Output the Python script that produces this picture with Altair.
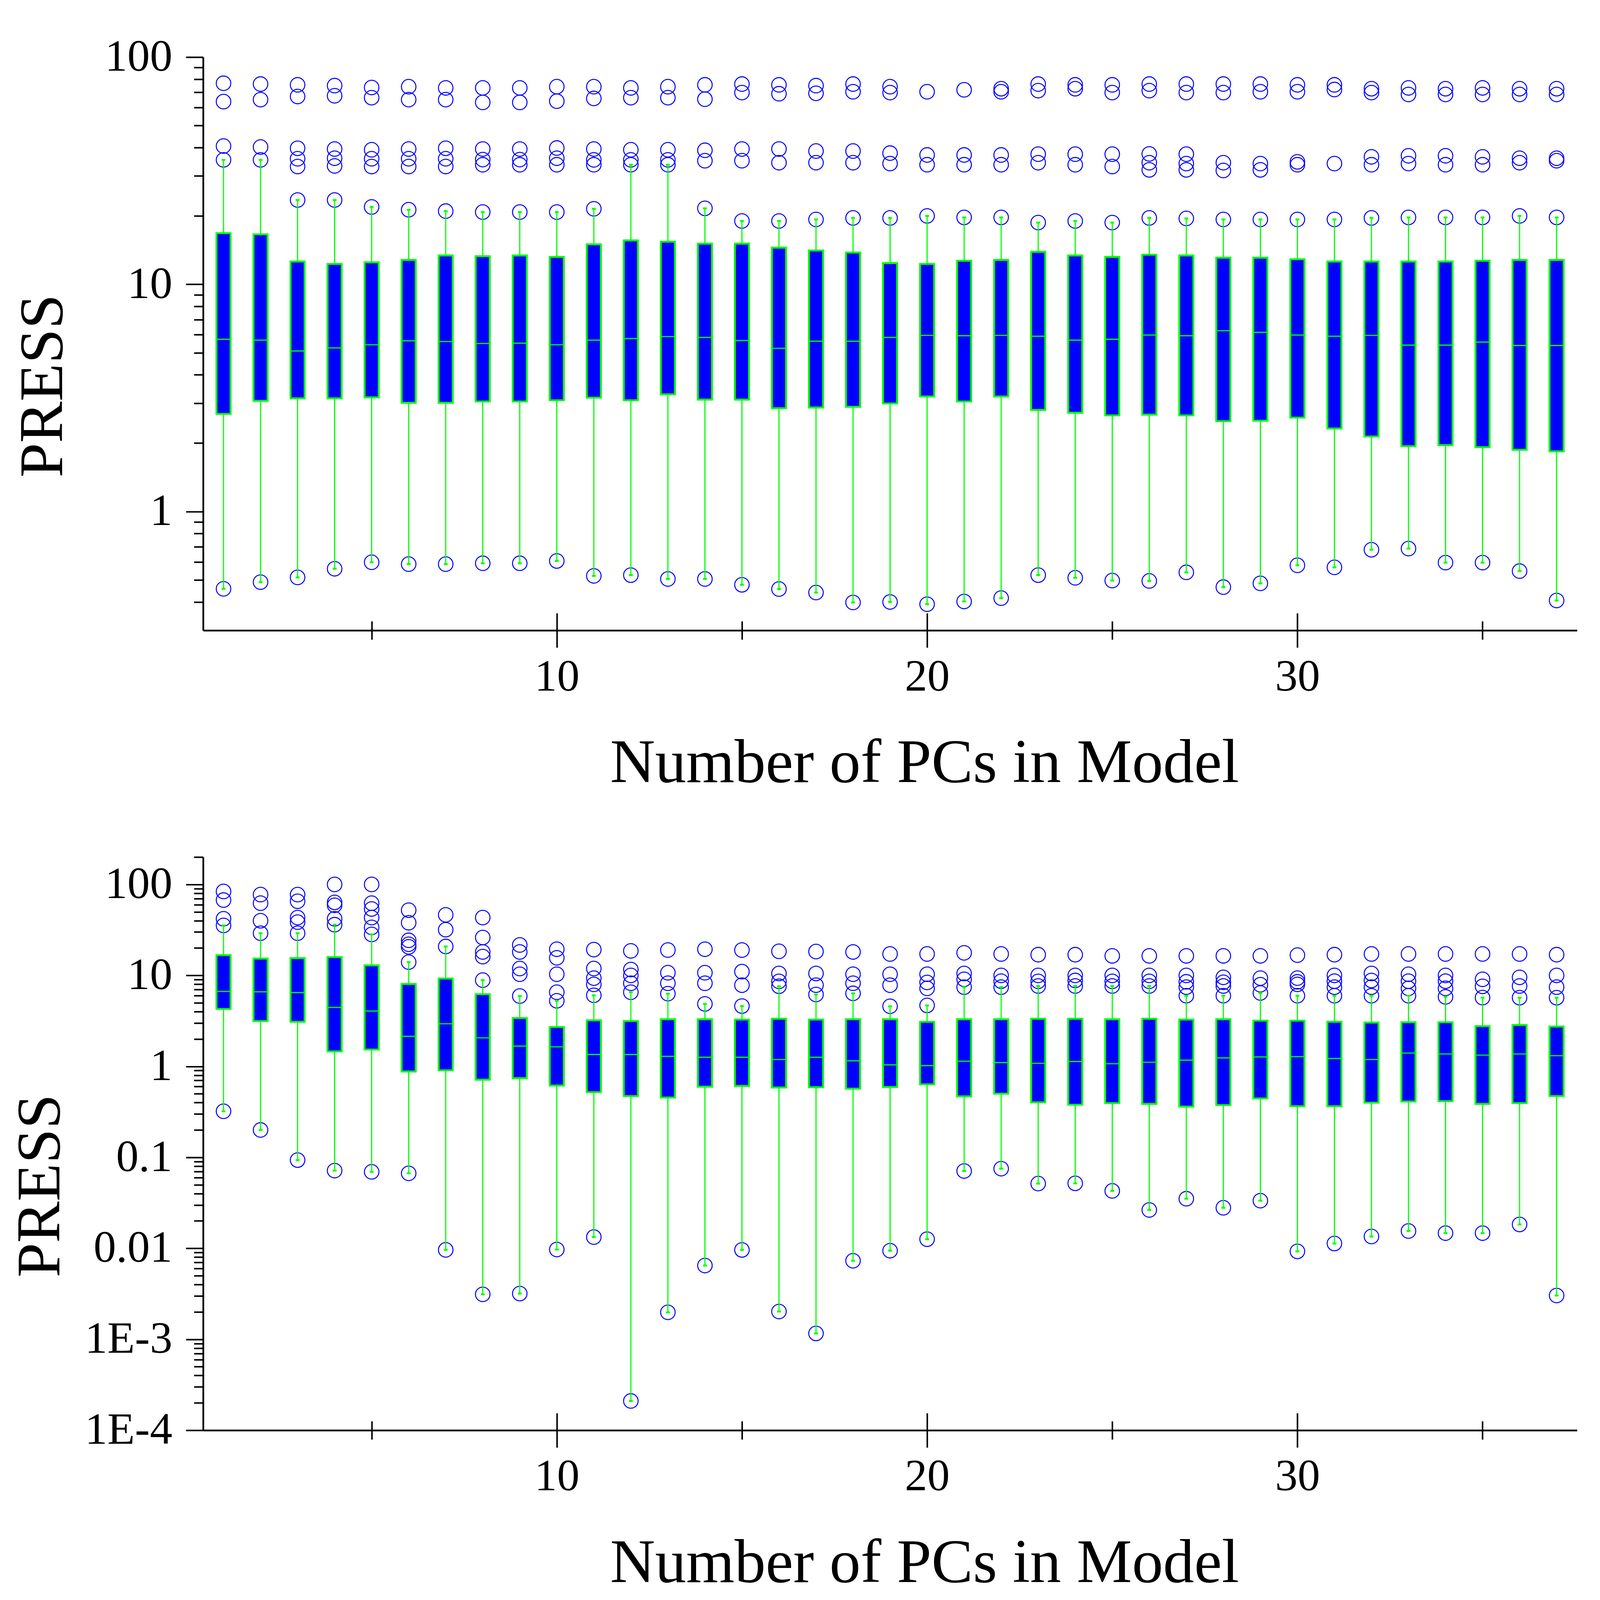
import altair as alt
import pandas as pd

# ---------------- data ----------------
PCS = list(range(1, 38))

# top panel
TOP_LO = [0.457, 0.489, 0.513, 0.560, 0.598, 0.587, 0.587, 0.592, 0.592, 0.606,
          0.521, 0.525, 0.505, 0.505, 0.476, 0.456, 0.440, 0.398, 0.400, 0.391,
          0.402, 0.416, 0.525, 0.511, 0.497, 0.495, 0.540, 0.465, 0.483, 0.580,
          0.568, 0.679, 0.687, 0.596, 0.596, 0.547, 0.406]
TOP_Q1 = [2.69, 3.07, 3.15, 3.15, 3.18, 3.01, 3.01, 3.05, 3.05, 3.09,
          3.17, 3.09, 3.28, 3.11, 3.11, 2.85, 2.87, 2.89, 2.99, 3.21,
          3.05, 3.21, 2.80, 2.72, 2.65, 2.67, 2.65, 2.50, 2.51, 2.59,
          2.32, 2.14, 1.94, 1.96, 1.92, 1.87, 1.84]
TOP_MED = [5.73, 5.68, 5.09, 5.25, 5.42, 5.64, 5.60, 5.49, 5.51, 5.42,
           5.68, 5.77, 5.89, 5.84, 5.66, 5.23, 5.62, 5.62, 5.84, 5.96,
           5.94, 5.96, 5.91, 5.68, 5.73, 5.98, 5.94, 6.25, 6.15, 5.98,
           5.91, 5.96, 5.40, 5.40, 5.57, 5.38, 5.38]
TOP_Q3 = [16.8, 16.6, 12.6, 12.3, 12.5, 12.8, 13.4, 13.3, 13.4, 13.2,
          15.0, 15.6, 15.4, 15.1, 15.1, 14.5, 14.1, 13.8, 12.4, 12.3,
          12.7, 12.8, 13.9, 13.4, 13.2, 13.5, 13.4, 13.1, 13.1, 12.9,
          12.6, 12.6, 12.6, 12.6, 12.7, 12.8, 12.8]
TOP_HI = [35.3, 35.3, 23.5, 23.5, 21.9, 21.3, 21.0, 20.8, 20.8, 20.8,
          21.5, 33.6, 33.6, 21.6, 19.0, 19.0, 19.3, 19.6, 19.6, 20.0,
          19.7, 19.7, 18.7, 19.0, 18.7, 19.6, 19.5, 19.3, 19.3, 19.3,
          19.3, 19.6, 19.7, 19.7, 19.7, 20.0, 19.7]
TOP_OUT = [
    [76.7, 63.7, 40.6], [76.1, 65.0, 40.2], [75.5, 67.1, 39.7, 35.7, 33.0],
    [74.9, 67.6, 39.4, 35.9, 33.2], [73.5, 66.3, 39.1, 35.7, 33.0],
    [74.1, 65.0, 39.4, 35.7, 33.0], [73.2, 65.0, 39.7, 35.7, 33.0],
    [73.2, 63.2, 39.4, 35.4, 33.6], [73.2, 63.2, 39.4, 35.4, 33.6],
    [74.1, 64.0, 39.8, 35.9, 33.6], [74.1, 65.8, 39.4, 35.3, 33.6],
    [73.2, 66.3, 39.1, 35.3], [74.1, 66.3, 39.1, 35.3], [75.5, 65.3, 38.9, 35.0],
    [76.1, 69.8, 39.4, 35.0], [75.5, 69.0, 39.4, 34.3], [74.9, 69.3, 38.6, 34.3],
    [76.1, 70.4, 38.6, 34.3], [74.1, 69.8, 37.8, 34.0], [70.4, 37.1, 33.6],
    [71.8, 37.1, 33.6], [72.6, 70.4, 37.1, 33.6], [76.1, 71.2, 37.4, 34.3],
    [75.5, 72.6, 37.4, 33.6], [75.5, 69.8, 37.4, 33.0],
    [76.1, 71.2, 37.5, 34.3, 31.9], [76.1, 69.8, 37.4, 34.0, 31.9],
    [76.1, 69.8, 34.3, 31.7], [76.1, 70.4, 34.0, 31.9], [75.5, 70.4, 34.6, 33.6],
    [75.5, 72.0, 34.0], [72.6, 69.8, 36.4, 33.6], [73.2, 68.5, 36.8, 34.0],
    [72.6, 68.5, 36.8, 33.6], [73.2, 68.5, 36.4, 33.6], [72.6, 68.5, 35.9, 34.3],
    [72.6, 68.5, 35.9, 35.0],
]

# bottom panel
BOT_LO = [0.321, 0.200, 0.0933, 0.0715, 0.0693, 0.0667, 0.00962, 0.00312, 0.00318, 0.0097,
          0.0133, 0.00021, 0.00198, 0.00647, 0.0096, 0.00202, 0.00116, 0.0073, 0.00942, 0.0126,
          0.0708, 0.0751, 0.0515, 0.0518, 0.0428, 0.0264, 0.0351, 0.0279, 0.0334, 0.00925,
          0.0113, 0.0135, 0.0155, 0.0147, 0.0147, 0.0183, 0.00303]
BOT_Q1 = [4.28, 3.15, 3.09, 1.46, 1.53, 0.879, 0.906, 0.714, 0.743, 0.616,
          0.521, 0.472, 0.454, 0.598, 0.610, 0.586, 0.590, 0.569, 0.593, 0.635,
          0.468, 0.501, 0.403, 0.379, 0.395, 0.387, 0.361, 0.376, 0.445, 0.365,
          0.365, 0.399, 0.411, 0.415, 0.387, 0.395, 0.472]
BOT_MED = [6.67, 6.61, 6.48, 4.45, 4.06, 2.14, 2.94, 2.06, 1.67, 1.64,
           1.35, 1.35, 1.29, 1.26, 1.26, 1.19, 1.26, 1.15, 1.04, 1.02,
           1.14, 1.10, 1.08, 1.13, 1.07, 1.11, 1.17, 1.24, 1.27, 1.28,
           1.22, 1.19, 1.40, 1.37, 1.33, 1.37, 1.31]
BOT_Q3 = [16.7, 15.3, 15.5, 15.9, 12.9, 8.05, 9.25, 6.22, 3.40, 2.71,
          3.21, 3.15, 3.30, 3.30, 3.27, 3.34, 3.27, 3.30, 3.30, 3.09,
          3.30, 3.30, 3.34, 3.34, 3.30, 3.34, 3.27, 3.30, 3.18, 3.18,
          3.09, 3.03, 3.06, 3.06, 2.77, 2.85, 2.74]
BOT_HI = [35.4, 29.1, 29.1, 36.1, 28.2, 14.0, 20.8, 8.87, 5.93, 5.26,
          6.04, 6.53, 6.3, 4.86, 4.6, 7.6, 6.17, 6.35, 4.58, 4.68,
          7.43, 7.43, 7.65, 7.65, 7.65, 7.65, 5.98, 5.98, 6.41, 5.98,
          5.98, 5.98, 5.98, 5.81, 5.7, 5.69, 5.69]
BOT_OUT = [
    [83.7, 67.3, 41.9], [77.3, 62.2, 39.9], [77.3, 65.3, 43.2, 38.5],
    [100.0, 63.5, 59.0, 41.9], [100.0, 62.2, 53.7, 43.2, 33.7],
    [52.1, 37.9, 24.3, 22.0, 20.6], [46.3, 31.8], [43.2, 26.1, 18.1, 16.1],
    [21.6, 18.1, 11.9, 10.3], [19.4, 15.6, 10.3, 6.53], [19.2, 11.9, 9.33, 7.97],
    [18.6, 11.6, 10.0, 8.2], [19.0, 10.7, 8.2], [19.4, 10.7, 8.2], [19.0, 11.0, 7.81],
    [18.4, 10.5, 8.6], [18.3, 10.5, 7.81], [18.1, 10.3, 8.2], [17.2, 10.3, 7.81],
    [17.2, 10.3, 8.37, 7.21], [17.7, 10.5, 9.06], [17.2, 10.0, 8.64],
    [16.9, 10.0, 8.6], [16.9, 10.0, 8.8], [16.4, 10.0, 8.6], [16.4, 10.0, 8.6],
    [16.4, 10.0, 8.5, 7.43], [16.4, 9.52, 8.4, 7.65], [16.4, 9.33, 7.9],
    [16.7, 9.33, 8.5, 7.97], [16.9, 10.0, 8.64, 7.43], [17.2, 10.5, 8.79, 7.43],
    [17.2, 10.3, 8.64, 7.21], [17.2, 10.0, 8.64, 7.21], [17.2, 9.06, 7.58],
    [17.2, 9.52, 7.65], [16.9, 10.0, 7.43],
]

# axes
X_DOMAIN = [0.5, 37.5]
X_MAJOR = [10, 20, 30]
X_MAJOR_LABELS = ["10", "20", "30"]
X_MINOR = [5, 15, 25, 35]

TOP_Y_DOMAIN = [0.3, 100]
TOP_Y_MAJOR = [1, 10, 100]
TOP_Y_LABELS = ["1", "10", "100"]
TOP_Y_MINOR = [0.4, 0.5, 0.6, 0.7, 0.8, 0.9, 2, 3, 4, 5, 6, 7, 8, 9,
               20, 30, 40, 50, 60, 70, 80, 90]

BOT_Y_DOMAIN = [0.0001, 200]
BOT_Y_MAJOR = [0.0001, 0.001, 0.01, 0.1, 1, 10, 100]
BOT_Y_LABELS = ["1E-4", "1E-3", "0.01", "0.1", "1", "10", "100"]
BOT_Y_MINOR = [m * d for d in [0.0001, 0.001, 0.01, 0.1, 1, 10] for m in range(2, 10)] + [200]

X_TITLE = "Number of PCs in Model"
Y_TITLE = "PRESS"

# ---------------- style ----------------
FONT = "Liberation Serif"
BLUE = "#0000FF"
GREEN = "#00FF00"
W = 3600
H = 1502
LABEL_SIZE = 118
TITLE_SIZE = 163
MAJOR_TICK = 45
MINOR_TICK = 24


def label_expr(vals, labels):
    parts = [f"datum.value == {v!r} ? '{l}'" for v, l in zip(vals, labels)]
    return " : ".join(parts) + " : ''"


def frames(lo, q1, med, q3, hi, out):
    box = pd.DataFrame({"pc": PCS, "lo": lo, "q1": q1, "med": med, "q3": q3, "hi": hi})
    rows = []
    for pc, l, h, extra in zip(PCS, lo, hi, out):
        for v in [l, h] + list(extra):
            rows.append({"pc": pc, "v": v})
    return box, pd.DataFrame(rows)


def panel(lo, q1, med, q3, hi, out, ydom, ymaj, ylab, ymin, ytitle_pad):
    box, pts = frames(lo, q1, med, q3, hi, out)
    xs = alt.Scale(domain=X_DOMAIN, nice=False, zero=False)
    ys = alt.Scale(type="log", domain=ydom, nice=False)

    common = dict(tickColor="black", tickWidth=4, grid=False)

    x_major = alt.Axis(
        values=X_MAJOR, labelExpr=label_expr(X_MAJOR, X_MAJOR_LABELS),
        tickSize=MAJOR_TICK, domain=True, domainColor="black", domainWidth=4.5,
        labelFont=FONT, labelFontSize=LABEL_SIZE, labelColor="black",
        labelPadding=19, labelFlush=False, labelOverlap=False, labelLimit=0,
        minExtent=0, maxExtent=1000,
        title=X_TITLE, titleFont=FONT, titleFontSize=TITLE_SIZE,
        titleFontWeight="normal", titleColor="black", titlePadding=87,
        titleX=W / 2 + 90, orient="bottom", **common)
    y_major = alt.Axis(
        values=ymaj, labelExpr=label_expr(ymaj, ylab),
        tickSize=MAJOR_TICK, domain=True, domainColor="black", domainWidth=4.5,
        labelFont=FONT, labelFontSize=LABEL_SIZE, labelColor="black",
        labelPadding=36, labelFlush=False, labelOverlap=False, labelLimit=0,
        minExtent=0, maxExtent=1000,
        title=Y_TITLE, titleFont=FONT, titleFontSize=TITLE_SIZE,
        titleFontWeight="normal", titleColor="black", titlePadding=ytitle_pad,
        titleY=H / 2 + 110, orient="left", **common)
    x_minor = alt.Axis(values=X_MINOR, tickSize=MINOR_TICK, labels=False,
                       domain=False, title=None, orient="bottom", **common)
    y_minor = alt.Axis(values=ymin, tickSize=MINOR_TICK, labels=False,
                       domain=False, title=None, orient="left", **common)
    x_up_major = alt.Axis(values=X_MAJOR, tickSize=MAJOR_TICK, labels=False,
                          domain=False, title=None, orient="top", offset=-H, **common)
    x_up_minor = alt.Axis(values=X_MINOR, tickSize=MINOR_TICK, labels=False,
                          domain=False, title=None, orient="top", offset=-H, **common)

    base = alt.Chart(box)
    points = alt.Chart(pts).mark_point(shape="circle", filled=False, size=1450,
                                       color=BLUE, strokeWidth=2.6, opacity=1).encode(
        x=alt.X("pc:Q", scale=xs, axis=x_minor),
        y=alt.Y("v:Q", scale=ys, axis=y_minor))
    whisk_lo = base.mark_rule(color=GREEN, strokeWidth=3).encode(
        x=alt.X("pc:Q", scale=xs, axis=None),
        y=alt.Y("lo:Q", scale=ys, axis=None), y2="q1:Q")
    whisk_hi = base.mark_rule(color=GREEN, strokeWidth=3).encode(
        x=alt.X("pc:Q", scale=xs, axis=None),
        y=alt.Y("q3:Q", scale=ys, axis=None), y2="hi:Q")
    bars = base.mark_bar(size=37, color=BLUE, stroke=GREEN, strokeWidth=5).encode(
        x=alt.X("pc:Q", scale=xs, axis=x_major),
        y=alt.Y("q1:Q", scale=ys, axis=y_major), y2="q3:Q")
    med_l = base.mark_tick(orient="horizontal", size=37, thickness=3, color=GREEN,
                           opacity=1).encode(
        x=alt.X("pc:Q", scale=xs, axis=None),
        y=alt.Y("med:Q", scale=ys, axis=None))
    cap_hi = base.mark_tick(orient="horizontal", size=10, thickness=5, color=GREEN,
                            opacity=1).encode(
        x=alt.X("pc:Q", scale=xs, axis=x_up_major),
        y=alt.Y("hi:Q", scale=ys, axis=None))
    cap_lo = base.mark_tick(orient="horizontal", size=10, thickness=5, color=GREEN,
                            opacity=1).encode(
        x=alt.X("pc:Q", scale=xs, axis=x_up_minor),
        y=alt.Y("lo:Q", scale=ys, axis=None))

    return alt.layer(points, whisk_lo, whisk_hi, bars, med_l, cap_hi, cap_lo).resolve_axis(
        x="independent", y="independent").properties(width=W, height=H)


top = panel(TOP_LO, TOP_Q1, TOP_MED, TOP_Q3, TOP_HI, TOP_OUT,
            TOP_Y_DOMAIN, TOP_Y_MAJOR, TOP_Y_LABELS, TOP_Y_MINOR, 78)
bot = panel(BOT_LO, BOT_Q1, BOT_MED, BOT_Q3, BOT_HI, BOT_OUT,
            BOT_Y_DOMAIN, BOT_Y_MAJOR, BOT_Y_LABELS, BOT_Y_MINOR, 33)

chart = alt.vconcat(top, bot, spacing=162).properties(
    padding={"top": 34, "left": 16, "right": 52, "bottom": 0},
    background="white",
).configure_view(strokeWidth=0)

chart.save("out.html", embed_options={"renderer": "svg", "actions": False})
